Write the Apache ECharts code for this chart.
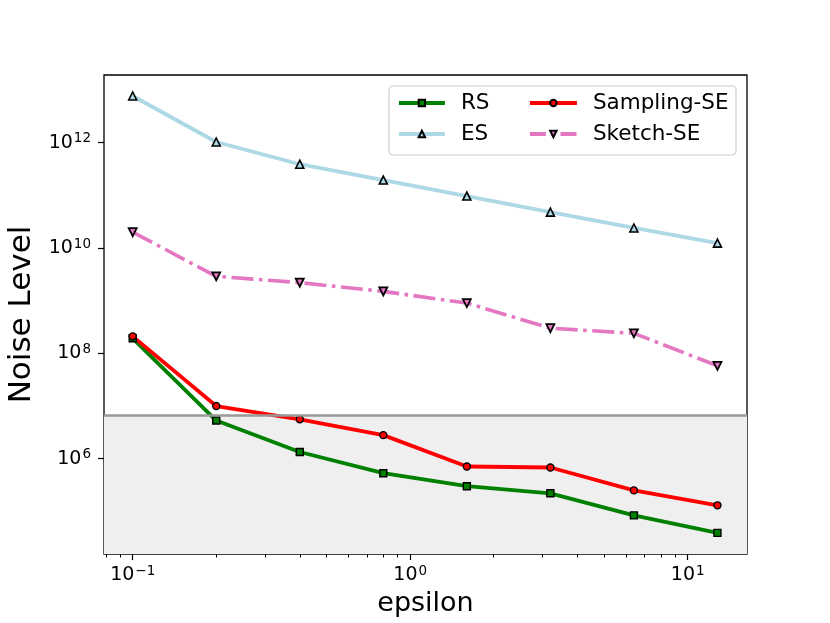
<!DOCTYPE html>
<html>
<head>
<meta charset="utf-8">
<script src="https://cdn.jsdelivr.net/npm/echarts@6/dist/echarts.min.js"></script>
<style>html,body{margin:0;padding:0;background:#fff}#c{width:830px;height:623px}</style>
</head>
<body>
<div id="c"></div>
<script>
const epsilon = [0.1, 0.2, 0.4, 0.8, 1.6, 3.2, 6.4, 12.8];
const rsValues = [1.93e8, 5.3e6, 1.34e6, 5.3e5, 3.0e5, 2.2e5, 8.4e4, 3.9e4];
const esValues = [7.7e12, 1.03e12, 3.9e11, 1.95e11, 9.7e10, 4.8e10, 2.4e10, 1.24e10];
const samplingValues = [2.1e8, 1.0e7, 5.6e6, 2.8e6, 7.1e5, 6.8e5, 2.5e5, 1.3e5];
const sketchValues = [2.0e10, 2.9e9, 2.2e9, 1.5e9, 9.0e8, 3.0e8, 2.4e8, 5.8e7];
const threshold = 6.55e6;
const xMajorTicks = [0.1, 1, 10];
const xMinorTicks = [0.08, 0.09, 0.2, 0.3, 0.4, 0.5, 0.6, 0.7, 0.8, 0.9, 2, 3, 4, 5, 6, 7, 8, 9];
const yMajorTicks = [1e6, 1e8, 1e10, 1e12];
const xMin = Math.pow(10, -1.1034), xMax = Math.pow(10, 1.2137);
const yMin = Math.pow(10, 4.19), yMax = Math.pow(10, 13.285);

const FONT = 'DejaVu Sans';
function expLabel(v) {
  const e = Math.round(Math.log10(v));
  return '{b|10}{s|' + String(e).replace('-', '\u2212') + '}';
}
const richTick = {
  b: { fontFamily: FONT, fontSize: 19, color: '#000' },
  s: { fontFamily: FONT, fontSize: 13.5, color: '#000', verticalAlign: 'top', padding: [0, 0, 8, 1] }
};
function pairs(ys) { return epsilon.map((x, i) => [x, ys[i]]); }
function legendItem(name, color, dash) {
  return { name: name, lineStyle: { color: color, width: 3.8, type: dash || 'solid' } };
}

const chart = echarts.init(document.getElementById('c'), null, { renderer: 'canvas' });
chart.setOption({
  animation: false,
  backgroundColor: '#fff',
  grid: { left: 104, right: 83, top: 75, bottom: 69, outerBoundsMode: 'none', containLabel: false, show: true, borderColor: '#000', borderWidth: 1.3, backgroundColor: 'transparent' },
  xAxis: [
    {
      type: 'log', min: xMin, max: xMax, position: 'bottom',
      name: 'epsilon', nameLocation: 'middle', nameGap: 36,
      nameTextStyle: { fontFamily: FONT, fontSize: 27, color: '#000' },
      axisLine: { show: false },
      splitLine: { show: false },
      axisTick: { show: true, inside: false, length: 6, lineStyle: { color: '#000', width: 1.2 }, customValues: xMajorTicks },
      axisLabel: { show: true, margin: 10, customValues: xMajorTicks, formatter: expLabel, rich: richTick }
    },
    {
      type: 'log', min: xMin, max: xMax, position: 'bottom',
      axisLine: { show: false }, splitLine: { show: false },
      axisTick: { show: true, inside: false, length: 3.5, lineStyle: { color: '#000', width: 1 }, customValues: xMinorTicks },
      axisLabel: { show: false }
    }
  ],
  yAxis: {
    type: 'log', min: yMin, max: yMax,
    name: 'Noise Level', nameLocation: 'middle', nameGap: 64, nameRotate: 90,
    nameTextStyle: { fontFamily: FONT, fontSize: 31, color: '#000' },
    axisLine: { show: false }, splitLine: { show: false },
    axisTick: { show: true, inside: false, length: 6, lineStyle: { color: '#000', width: 1.2 }, customValues: yMajorTicks },
    axisLabel: { show: true, margin: 13, customValues: yMajorTicks, formatter: expLabel, rich: richTick }
  },
  graphic: [{
    type: 'rect', z: 3, shape: { x: 389, y: 86, width: 347, height: 69, r: 4 },
    style: { fill: 'rgba(255,255,255,0.85)', stroke: '#cccccc', lineWidth: 1.2 }
  }],
  legend: [
    {
      orient: 'vertical', left: 397, top: 92, padding: 0, itemGap: 9, itemWidth: 46, itemHeight: 8, z: 5,
      data: [legendItem('RS', '#008000'), legendItem('ES', '#add8e6')],
      textStyle: { fontFamily: FONT, fontSize: 21.5, color: '#000', lineHeight: 22, padding: [0, 0, 0, 11] }
    },
    {
      orient: 'vertical', left: 528, top: 92, padding: 0, itemGap: 9, itemWidth: 47, itemHeight: 8, z: 5,
      data: [legendItem('Sampling-SE', '#ff0000'), legendItem('Sketch-SE', '#e377c2', [16, 5.5, 3.6, 5.5])],
      textStyle: { fontFamily: FONT, fontSize: 21.5, color: '#000', lineHeight: 22, padding: [0, 0, 0, 11] }
    }
  ],
  series: [
    {
      name: 'shade', type: 'line', data: [], z: 1, silent: true,
      markArea: { silent: true, itemStyle: { color: '#efefef' }, data: [[{ yAxis: yMin }, { yAxis: threshold }]] },
      markLine: { silent: true, symbol: 'none', label: { show: false }, lineStyle: { color: '#999999', width: 2.6, type: 'solid' }, data: [{ yAxis: threshold }] }
    },
    {
      name: 'RS', type: 'line', data: pairs(rsValues), z: 2,
      symbol: 'rect', symbolSize: 7,
      lineStyle: { color: '#008000', width: 3.8 },
      itemStyle: { color: '#008000', borderColor: '#000', borderWidth: 1.4 }
    },
    {
      name: 'ES', type: 'line', data: pairs(esValues), z: 2,
      symbol: 'triangle', symbolSize: 8,
      lineStyle: { color: '#add8e6', width: 3.8 },
      itemStyle: { color: '#add8e6', borderColor: '#000', borderWidth: 1.6 }
    },
    {
      name: 'Sampling-SE', type: 'line', data: pairs(samplingValues), z: 2,
      symbol: 'circle', symbolSize: 7,
      lineStyle: { color: '#ff0000', width: 3.8 },
      itemStyle: { color: '#ff0000', borderColor: '#000', borderWidth: 1.4 }
    },
    {
      name: 'Sketch-SE', type: 'line', data: pairs(sketchValues), z: 2,
      symbol: 'triangle', symbolSize: 8, symbolRotate: 180,
      lineStyle: { color: '#e377c2', width: 3.6, type: [22, 5.5, 3.6, 5.5] },
      itemStyle: { color: '#e377c2', borderColor: '#000', borderWidth: 1.8 }
    }
  ]
});
</script>
</body>
</html>
